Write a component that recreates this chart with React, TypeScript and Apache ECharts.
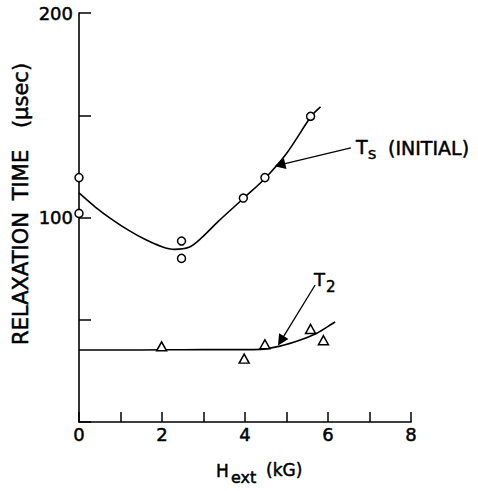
import React, { useEffect, useRef } from "react";
import * as echarts from "echarts";

// Measured points (circles: Ts initial, triangles: T2)
const tsX = [0, 0, 2.47, 2.47, 3.96, 4.48, 5.58];
const tsY = [119.5, 102, 88.5, 80, 109.5, 119.5, 149.5];
const t2X = [1.99, 3.98, 4.48, 5.58, 5.89];
const t2Y = [37, 31, 38, 45.5, 40];

// Drawn fit curves
const tsFitX = [0, 0.4, 0.8, 1.2, 1.6, 2.0, 2.3, 2.65, 2.95, 3.35, 3.96, 4.48, 5.0, 5.6, 5.82];
const tsFitY = [112, 105, 99, 93.7, 89.2, 85.7, 84.4, 85.4, 90, 98, 109.3, 119.1, 131.3, 149.6, 154.1];
const t2FitX = [0, 1, 2, 3, 4, 4.36, 4.84, 5.33, 5.73, 6.09, 6.17];
const t2FitY = [35.2, 35.2, 35.3, 35.4, 35.4, 35.5, 37.1, 40.1, 43.4, 47.9, 49];

// Annotation arrows: [tail, head]
const arrowTs = [[6.55, 134], [4.84, 125.7]];
const arrowT2 = [[5.69, 67], [4.865, 39.7]];

const xTicks = { min: 0, max: 8, interval: 1 };
const yTicks = { min: 0, max: 200, interval: 50 };
const yLabelled = [100, 200];

const zip = (xs: number[], ys: number[]) => xs.map((x, i) => [x, ys[i]]);
const FONT = "DejaVu Sans";

export default function App() {
  const ref = useRef<HTMLDivElement>(null);
  useEffect(() => {
    const chart = echarts.init(ref.current!, null, { renderer: "svg" });
    const txt = (text: string, x: number, y: number, size: number, extra: any = {}) => ({
      type: "text",
      x,
      y,
      ...extra,
      style: {
        text,
        fill: "#000",
        fontSize: size,
        fontFamily: FONT,
        stroke: "#000",
        lineWidth: 0.5,
        align: extra.align || "left",
        verticalAlign: "middle",
      },
    });
    const labelStyle = {
      color: "#000",
      fontSize: 18,
      fontFamily: FONT,
      textBorderColor: "#000",
      textBorderWidth: 0.5,
    };
    chart.setOption({
      animation: false,
      backgroundColor: "#fff",
      grid: { left: 79, right: 67, top: 13, bottom: 69, containLabel: false },
      xAxis: {
        type: "value",
        ...xTicks,
        axisLine: { show: true, lineStyle: { color: "#000", width: 1.6 } },
        axisTick: { show: true, inside: true, length: 10, lineStyle: { color: "#000", width: 1.5 } },
        axisLabel: {
          ...labelStyle,
          margin: 3,
          formatter: (v: number) => (v % 2 === 0 ? String(v) : ""),
        },
        splitLine: { show: false },
      },
      yAxis: {
        type: "value",
        ...yTicks,
        axisLine: { show: true, lineStyle: { color: "#000", width: 1.6 } },
        axisTick: { show: true, inside: true, length: 12, lineStyle: { color: "#000", width: 1.5 } },
        axisLabel: {
          ...labelStyle,
          margin: 6,
          formatter: (v: number) => (yLabelled.includes(v) ? String(v) : ""),
        },
        splitLine: { show: false },
      },
      series: [
        {
          type: "line",
          data: zip(tsFitX, tsFitY),
          showSymbol: false,
          smooth: 0.3,
          lineStyle: { color: "#000", width: 1.6 },
          z: 2,
        },
        {
          type: "line",
          data: zip(t2FitX, t2FitY),
          showSymbol: false,
          smooth: 0.3,
          lineStyle: { color: "#000", width: 1.6 },
          z: 2,
        },
        {
          type: "scatter",
          data: zip(tsX, tsY),
          symbol: "circle",
          symbolSize: 8,
          itemStyle: { color: "#fff", borderColor: "#000", borderWidth: 1.5, opacity: 1 },
          z: 5,
          markLine: {
            silent: true,
            symbol: ["none", "triangle"],
            symbolSize: 11,
            label: { show: false },
            lineStyle: { color: "#000", type: "solid", width: 1.3 },
            data: [
              [{ coord: arrowTs[0] }, { coord: arrowTs[1] }],
              [{ coord: arrowT2[0] }, { coord: arrowT2[1] }],
            ],
          },
        },
        {
          type: "scatter",
          data: zip(t2X, t2Y),
          symbol: "triangle",
          symbolSize: [10, 9],
          itemStyle: { color: "#fff", borderColor: "#000", borderWidth: 1.5, opacity: 1 },
          z: 5,
        },
      ],
      graphic: [
        txt("T", 356, 147, 19),
        txt("S", 368, 154, 13),
        txt("(INITIAL)", 388, 148, 19),
        txt("T", 314, 279, 18),
        txt("2", 326, 287, 15),
        txt("H", 216, 471, 17),
        txt("ext", 231, 477, 16),
        txt("(kG)", 266, 470, 17),
        txt("RELAXATION", 21, 278.5, 21, { rotation: Math.PI / 2, align: "center" }),
        txt("TIME", 21, 175, 21, { rotation: Math.PI / 2, align: "center" }),
        txt("(\u03bcsec)", 21, 95.5, 21, { rotation: Math.PI / 2, align: "center" }),
      ],
    });
    return () => chart.dispose();
  }, []);
  return (
    <div
      ref={ref}
      style={{ position: "fixed", left: 0, top: 0, width: 478, height: 491, background: "#fff" }}
    />
  );
}
